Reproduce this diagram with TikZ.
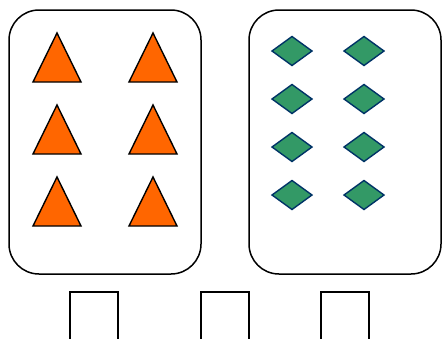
\documentclass[tikz,border=0pt]{standalone}
\usepackage{tikz}

\definecolor{triorange}{HTML}{FF6600}
\definecolor{diagreen}{HTML}{339966}
\definecolor{diablue}{HTML}{003366}

\begin{document}
\begin{tikzpicture}[x=1pt, y=-1pt,
  panel/.style={line width=1.5pt, rounded corners=30pt},
  tri/.style={fill=triorange, draw=black, line width=1.4pt, line join=miter},
  dia/.style={fill=diagreen, draw=diablue, line width=1.4pt},
  slot/.style={line width=1.5pt}]
  \useasboundingbox (0,0) rectangle (442,338);
  % --- panel med trekanter ---
  \draw[panel] (9,10) rectangle (201,274);
  \foreach \cx in {57,153}
    \foreach \ty in {33,105,177}
      \draw[tri] (\cx-24,\ty+49) -- (\cx,\ty) -- (\cx+24,\ty+49) -- cycle;
  % --- panel med ruder ---
  \draw[panel] (249,10) rectangle (441,274);
  \foreach \cx in {292,364}
    \foreach \cy in {51,99,147,195}
      \draw[dia] (\cx-20,\cy) -- (\cx,\cy-14.5) -- (\cx+20,\cy) -- (\cx,\cy+14.5) -- cycle;
  % --- bokse forneden ---
  \foreach \lx in {70,201,321}
    \draw[slot] (\lx,345) -- (\lx,292) -- (\lx+48,292) -- (\lx+48,345);
\end{tikzpicture}
\end{document}
